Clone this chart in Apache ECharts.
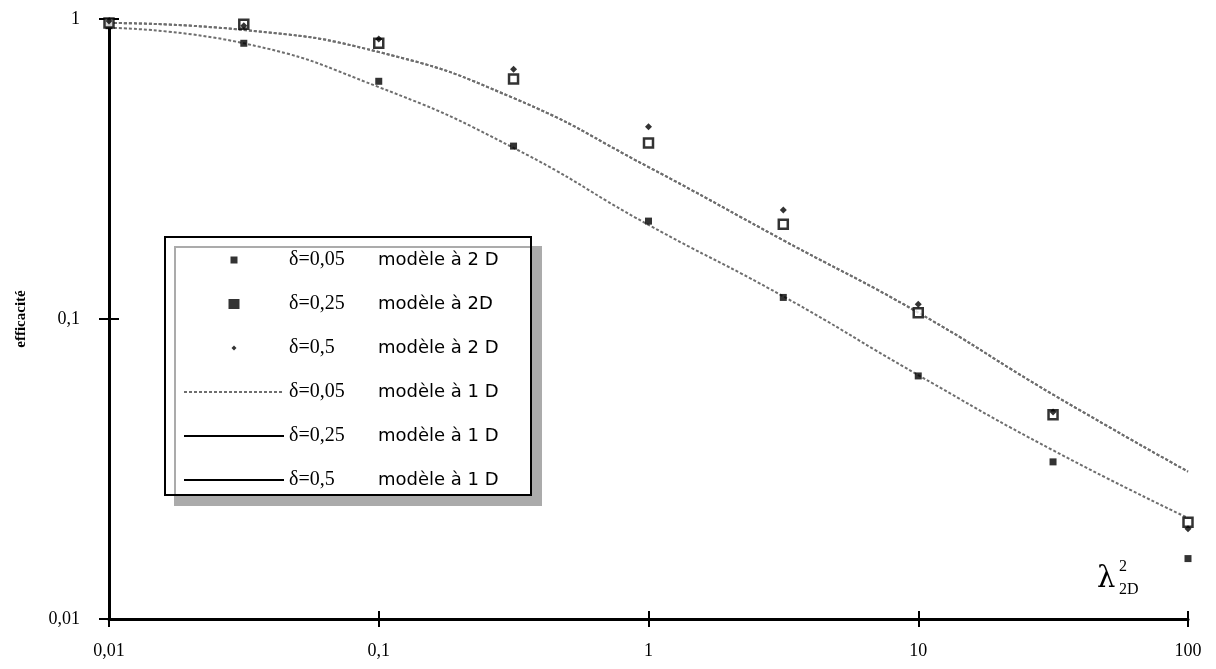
<!DOCTYPE html>
<html><head><meta charset="utf-8">
<script src="https://cdn.jsdelivr.net/npm/echarts@6/dist/echarts.min.js"></script>
<style>html,body{margin:0;padding:0;background:#fff}#c{width:1216px;height:669px}</style>
</head><body><div id="c"></div>
<script>
// ---- data ----
const xValues = [0.01, 0.0316, 0.1, 0.316, 1, 3.16, 10, 31.6, 100];
const pts2D_d005 = [0.95, 0.83, 0.62, 0.377, 0.212, 0.118, 0.0646, 0.0334, 0.0159];
const pts2D_d025 = [0.97, 0.96, 0.83, 0.631, 0.386, 0.207, 0.105, 0.048, 0.021];
const pts2D_d05  = [0.985, 0.95, 0.858, 0.68, 0.437, 0.231, 0.112, 0.049, 0.020];
const line1D_d005 = [0.935, 0.83, 0.593, 0.372, 0.206, 0.119, 0.065, 0.0365, 0.0217];
const line1D_d025 = [0.97, 0.919, 0.776, 0.545, 0.321, 0.183, 0.105, 0.056, 0.031];
const line1D_d05  = [0.97, 0.919, 0.776, 0.545, 0.321, 0.183, 0.105, 0.056, 0.031];
const xTickValues = [0.01, 0.1, 1, 10, 100];
const xTickLabels = ['0,01', '0,1', '1', '10', '100'];
const yTickValues = [0.01, 0.1, 1];
const yTickLabels = ['0,01', '0,1', '1'];
const seriesNames = [
  'δ=0,05|modèle à 2 D', 'δ=0,25|modèle à 2D', 'δ=0,5|modèle à 2 D',
  'δ=0,05|modèle à 1 D', 'δ=0,25|modèle à 1 D', 'δ=0,5|modèle à 1 D'
];
const axisTitleY = 'efficacité';

// ---- helpers ----
function pairs(ys) { return xValues.map((x, i) => [x, ys[i]]); }
function labelFor(vals, labels) {
  return function (v) {
    const i = vals.findIndex(t => Math.abs(Math.log10(t) - Math.log10(v)) < 1e-6);
    return i >= 0 ? labels[i] : '';
  };
}
const SERIF = '"Liberation Serif", "Times New Roman", serif';
const SANS = '"DejaVu Sans", sans-serif';
const lineGray = { color: '#6e6e6e', width: 2, type: [3, 2] };

const chart = echarts.init(document.getElementById('c'), null, { renderer: 'canvas' });
const option = {
  animation: false,
  backgroundColor: '#fff',
  grid: { left: 109, right: 28, top: 19, bottom: 50 },
  xAxis: [{
    type: 'log', logBase: 10, min: 0.01, max: 100,
    axisLine: { lineStyle: { color: '#000', width: 3 } },
    axisTick: { length: 8, lineStyle: { color: '#000', width: 2 } },
    axisLabel: { margin: 23, color: '#000', fontFamily: SERIF, fontSize: 18, formatter: labelFor(xTickValues, xTickLabels) },
    splitLine: { show: false }, minorSplitLine: { show: false }
  }, {
    type: 'log', logBase: 10, min: 0.01, max: 100, position: 'bottom',
    axisLine: { show: false },
    axisTick: { inside: true, length: 8, lineStyle: { color: '#000', width: 2 } },
    axisLabel: { show: false }, splitLine: { show: false }
  }],
  yAxis: [{
    type: 'log', logBase: 10, min: 0.01, max: 1,
    name: axisTitleY, nameLocation: 'middle', nameGap: 80, nameRotate: 90,
    nameTextStyle: { fontFamily: SERIF, fontWeight: 'bold', fontSize: 15, color: '#000' },
    axisLine: { lineStyle: { color: '#000', width: 3 } },
    axisTick: { length: 10, lineStyle: { color: '#000', width: 2 } },
    axisLabel: { margin: 29, color: '#000', fontFamily: SERIF, fontSize: 18, formatter: labelFor(yTickValues, yTickLabels) },
    splitLine: { show: false }
  }, {
    type: 'log', logBase: 10, min: 0.01, max: 1, position: 'left',
    axisLine: { show: false },
    axisTick: { inside: true, length: 10, lineStyle: { color: '#000', width: 2 } },
    axisLabel: { show: false }, splitLine: { show: false }
  }],
  legend: {
    orient: 'vertical', left: 165, top: 237,
    padding: [13, 5, 5, 18],
    itemWidth: 100, itemHeight: 14, itemGap: 24,
    selectedMode: false,
    backgroundColor: '#fff', borderColor: '#000', borderWidth: 2,
    shadowColor: '#ababab', shadowBlur: 0, shadowOffsetX: 10, shadowOffsetY: 10,
    formatter: function (name) {
      const p = name.split('|');
      return '{d|' + p[0] + '}{m|' + p[1] + '}';
    },
    textStyle: {
      rich: {
        d: { fontFamily: SERIF, fontSize: 20, color: '#000', width: 89, lineHeight: 22 },
        m: { fontFamily: SANS, fontSize: 18, color: '#000', width: 148, lineHeight: 22 }
      }
    },
    data: [
      { name: seriesNames[0], icon: 'path://M0,0M14,14M3.5,3.5h7v7h-7z', itemStyle: { color: '#000', borderWidth: 0 } },
      { name: seriesNames[1], icon: 'path://M0,0M14,14M1.5,2h11v10h-11z', itemStyle: { color: '#000', borderWidth: 0 } },
      { name: seriesNames[2], icon: 'path://M0,0M14,14M7,4.5L9.5,7L7,9.5L4.5,7z', itemStyle: { color: '#000', borderWidth: 0 } },
      { name: seriesNames[3], itemStyle: { opacity: 0 }, lineStyle: { color: '#6e6e6e', width: 2, type: [3, 2] } },
      { name: seriesNames[4], itemStyle: { opacity: 0 }, lineStyle: { color: '#000', width: 2, type: 'solid' } },
      { name: seriesNames[5], itemStyle: { opacity: 0 }, lineStyle: { color: '#000', width: 2, type: 'solid' } }
    ]
  },
  graphic: [
    { type: 'text', left: 1097, top: 565, style: { text: 'λ', font: '29px "DejaVu Serif"', fill: '#000' } },
    { type: 'text', left: 1119, top: 559, style: { text: '2', font: '16px "Liberation Serif"', fill: '#000' } },
    { type: 'text', left: 1119, top: 582, style: { text: '2D', font: '16px "Liberation Serif"', fill: '#000' } }
  ],
  series: [
    { name: seriesNames[3], type: 'line', smooth: true, symbol: 'none', showSymbol: false, lineStyle: lineGray, data: pairs(line1D_d005), z: 2 },
    { name: seriesNames[4], type: 'line', smooth: true, symbol: 'none', showSymbol: false, lineStyle: lineGray, data: pairs(line1D_d025), z: 2 },
    { name: seriesNames[5], type: 'line', smooth: true, symbol: 'none', showSymbol: false, lineStyle: lineGray, data: pairs(line1D_d05), z: 2 },
    { name: seriesNames[0], type: 'scatter', symbol: 'rect', symbolSize: 7, itemStyle: { color: '#000' }, data: pairs(pts2D_d005), z: 3 },
    { name: seriesNames[1], type: 'scatter', symbol: 'rect', symbolSize: 9, itemStyle: { color: '#fff', borderColor: '#000', borderWidth: 2.5 }, data: pairs(pts2D_d025), z: 4 },
    { name: seriesNames[2], type: 'scatter', symbol: 'diamond', symbolSize: 7, itemStyle: { color: '#000' }, data: pairs(pts2D_d05), z: 5 }
  ]
};
chart.setOption(option);
</script>
</body></html>
